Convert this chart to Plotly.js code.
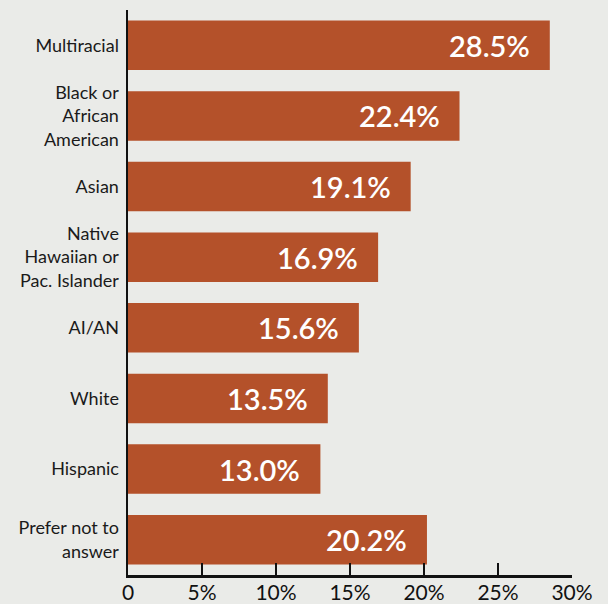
<!DOCTYPE html>
<html>
<head>
<meta charset="utf-8">
<script src="https://cdn.plot.ly/plotly-3.0.1.min.js"></script>
<style>
html,body{margin:0;padding:0;background:#eaebe8;}
#chart{width:608px;height:604px;}
</style>
</head>
<body>
<div id="chart"></div>
<script>
const categories = [
  "Multiracial",
  "Black or<br>African<br>American",
  "Asian",
  "Native<br>Hawaiian or<br>Pac. Islander",
  "AI/AN",
  "White",
  "Hispanic",
  "Prefer not to<br>answer"
];
const values = [28.5, 22.4, 19.1, 16.9, 15.6, 13.5, 13.0, 20.2];
const tickVals = [0, 5, 10, 15, 20, 25, 30];
const tickText = ["0", "5%", "10%", "15%", "20%", "25%", "30%"];

const barColor = "#b4512a";
const bg = "#eaebe8";
const fontFam = "Lato, 'Open Sans', sans-serif";

const trace = {
  type: "bar",
  orientation: "h",
  x: values,
  y: categories,
  marker: {color: barColor},
  width: 0.7,
  hoverinfo: "none"
};

const annotations = values.map((v, i) => ({
  x: v,
  y: categories[i],
  xref: "x",
  yref: "y",
  text: v.toFixed(1) + "%",
  showarrow: false,
  xanchor: "right",
  yanchor: "middle",
  xshift: -18,
  font: {family: fontFam, size: 29, color: "#ffffff", weight: 600}
}));

const layout = {
  width: 608,
  height: 604,
  paper_bgcolor: bg,
  plot_bgcolor: bg,
  margin: {l: 128, r: 36, t: 10, b: 29},
  showlegend: false,
  xaxis: {
    range: [0, 30],
    tickvals: tickVals,
    ticktext: tickText,
    ticks: "inside",
    ticklen: 12,
    tickwidth: 2,
    tickcolor: "#111",
    showline: true,
    linecolor: "#111",
    linewidth: 2.5,
    showgrid: false,
    zeroline: false,
    ticklabelstandoff: -3,
    tickfont: {family: fontFam, size: 21, color: "#111"},
    fixedrange: true
  },
  yaxis: {
    autorange: "reversed",
    showline: true,
    linecolor: "#111",
    linewidth: 2.5,
    showgrid: false,
    zeroline: false,
    ticks: "",
    ticklabelstandoff: 3,
    tickfont: {family: fontFam, size: 18, color: "#1a1a1a"},
    fixedrange: true
  },
  annotations: annotations
};

Plotly.newPlot("chart", [trace], layout, {displayModeBar: false, staticPlot: true});
</script>
</body>
</html>
